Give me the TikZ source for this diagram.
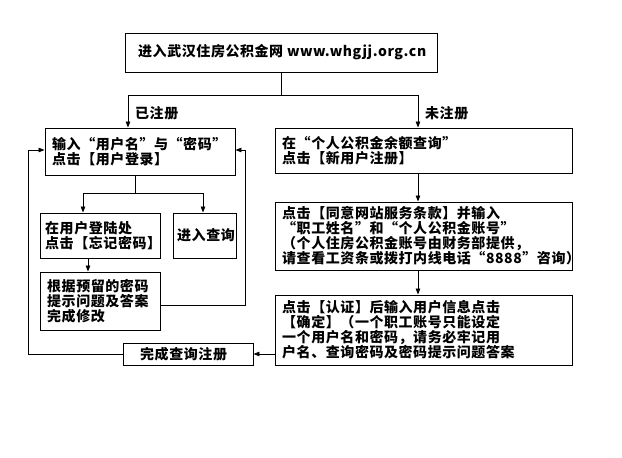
\documentclass[tikz,border=0pt]{standalone}
\usepackage{fontspec}
\setmainfont{Noto Sans CJK SC}[LetterSpace=4]
\usetikzlibrary{arrows.meta}
\begin{document}
\begin{tikzpicture}[x=1pt,y=-1pt,
 bx/.style={draw,line width=0.9pt,inner sep=0pt},
 tx/.style={align=left,anchor=west,font=\fontsize{14}{15}\selectfont\bfseries,inner sep=0pt},
 ar/.style={-{Triangle[length=6pt,width=4.5pt]},line width=0.8pt},
 ln/.style={line width=0.8pt}]
\useasboundingbox (0,0) rectangle (622,458);
\node[bx,minimum width=312,minimum height=39] (top) at (281,52.5) {};
\node[tx] at (138,52.5) {进入武汉住房公积金网 www.whgjj.org.cn};
\node[bx,minimum width=190,minimum height=47] (b1) at (140,151.5) {};
\node[tx] at (52,151.5) {输入“用户名”与“密码”\\点击【用户登录】};
\node[bx,minimum width=120,minimum height=45] (b2) at (100,235.5) {};
\node[tx] at (45,235.5) {在用户登陆处\\点击【忘记密码】};
\node[bx,minimum width=63,minimum height=45] (b3) at (204.5,235.5) {};
\node[tx] at (177,235.5) {进入查询};
\node[bx,minimum width=120,minimum height=58] (b4) at (100,301) {};
\node[tx] at (47,301) {根据预留的密码\\提示问题及答案\\完成修改};
\node[bx,minimum width=130,minimum height=22] (b5) at (188,354) {};
\node[tx] at (140,354) {完成查询注册};
\node[bx,minimum width=297,minimum height=45] (r1) at (423.5,150.5) {};
\node[tx] at (282,150.5) {在“个人公积金余额查询”\\点击【新用户注册】};
\node[bx,minimum width=297,minimum height=68] (r2) at (423.5,236) {};
\node[tx] at (282,236) {点击【同意网站服务条款】并输入\\“职工姓名”和“个人公积金账号”\\（个人住房公积金账号由财务部提供，\\请查看工资条或拨打内线电话“8888"咨询）};
\node[bx,minimum width=297,minimum height=70] (r3) at (423.5,330) {};
\node[tx] at (282,330) {点击【认证】后输入用户信息点击\\【确定】（一个职工账号只能设定\\一个用户名和密码，请务必牢记用\\户名、查询密码及密码提示问题答案};
\coordinate (j) at (281,95);
\draw[ln] (top.south) -- (j);
\draw[ar] (j) -| (b1.north -| 128,0);
\draw[ar] (j) -| (r1.north -| 418,0);
\node[tx] at (135,113) {已注册};
\node[tx] at (425,113) {未注册};
\coordinate (j2) at (135,193);
\draw[ln] (b1.south -| j2) -- (j2);
\draw[ar] (j2) -| (b2.north -| 83,0);
\draw[ar] (j2) -| (b3.north -| 203,0);
\draw[ar] (b2.south -| 88,0) -- (b4.north -| 88,0);
\draw[ar] (b4.east |- 0,305) -| (245,150) -- (b1.east |- 0,150);
\draw[ar] (b5.west) -| (28,150) -- (b1.west |- 0,150);
\draw[ar] (r3.west |- b5) -- (b5.east);
\draw[ar] (r1.south -| 418,0) -- (r2.north -| 418,0);
\draw[ar] (r2.south -| 418,0) -- (r3.north -| 418,0);
\end{tikzpicture}
\end{document}
